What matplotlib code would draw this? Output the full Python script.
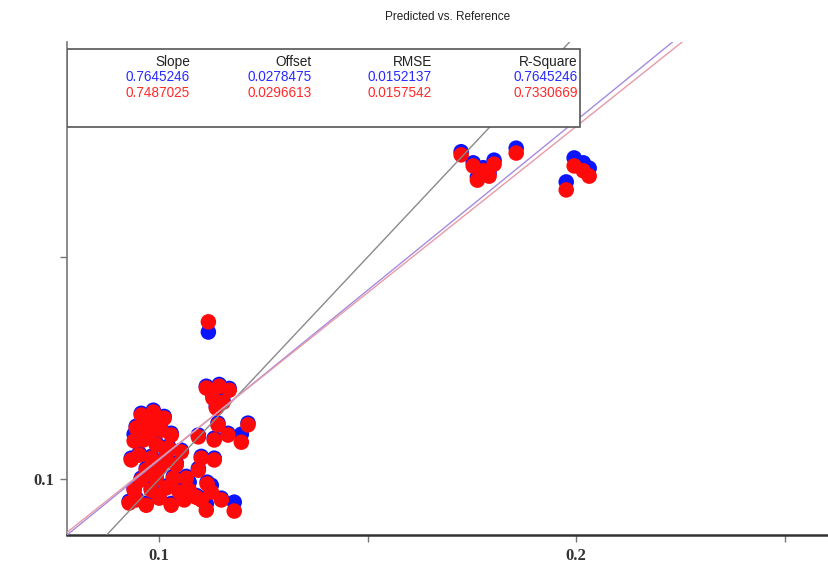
import matplotlib
matplotlib.use("Agg")
import matplotlib.pyplot as plt
from matplotlib.patches import Rectangle

# reference values (x) and predictions of the two models (blue / red)
reference = [
    0.1724, 0.1753, 0.1777, 0.1803, 0.1763, 0.1791, 0.1856,
    0.1995, 0.2017, 0.2031, 0.1976,
    0.1118,
    0.1113, 0.1144, 0.1168, 0.1129, 0.1153, 0.1137,
    0.1213, 0.1197, 0.1141, 0.1094, 0.1132, 0.1165, 0.1101, 0.1132, 0.1094, 0.1115,
    0.0957, 0.0986, 0.1012, 0.0945, 0.0976, 0.1005, 0.1029, 0.0940, 0.0962,
    0.0993, 0.1022, 0.1053, 0.0952, 0.0981, 0.1010, 0.1041, 0.0969, 0.1000,
    0.0928, 0.0945, 0.0969, 0.1000, 0.1029, 0.1060, 0.1089, 0.0981, 0.1017,
    0.1048, 0.0957, 0.0993, 0.1072, 0.1125, 0.1113, 0.1180, 0.1149,
    0.0933, 0.1017, 0.0976, 0.1005, 0.1034, 0.1065, 0.1101, 0.0940,
]
pred_red = [
    0.1730, 0.1705, 0.1694, 0.1709, 0.1673, 0.1682, 0.1734,
    0.1705, 0.1694, 0.1682, 0.1651,
    0.1354,
    0.1205, 0.1209, 0.1200, 0.1182, 0.1173, 0.1160,
    0.1122, 0.1083, 0.1122, 0.1095, 0.1088, 0.1099, 0.1047, 0.1043, 0.1020, 0.0989,
    0.1144, 0.1151, 0.1137, 0.1115, 0.1122, 0.1110, 0.1099, 0.1086, 0.1088,
    0.1077, 0.1070, 0.1061, 0.1054, 0.1047, 0.1038, 0.1032, 0.1020, 0.1025,
    0.0946, 0.0953, 0.0941, 0.0957, 0.0941, 0.0953, 0.0959, 0.0975, 0.0980,
    0.0971, 0.0998, 0.1002, 0.0975, 0.0971, 0.0930, 0.0928, 0.0953,
    0.1043, 0.1054, 0.1099, 0.1133, 0.1002, 0.1002, 0.0953, 0.0975,
]
pred_blue = [
    0.1737, 0.1712, 0.1701, 0.1718, 0.1680, 0.1689, 0.1745,
    0.1723, 0.1712, 0.1700, 0.1669,
    0.1331,
    0.1209, 0.1213, 0.1204, 0.1186, 0.1177, 0.1164,
    0.1126, 0.1101, 0.1126, 0.1099, 0.1092, 0.1103, 0.1051, 0.1047, 0.1024, 0.0993,
    0.1148, 0.1155, 0.1141, 0.1119, 0.1126, 0.1114, 0.1103, 0.1101, 0.1092,
    0.1081, 0.1074, 0.1065, 0.1058, 0.1051, 0.1042, 0.1036, 0.1024, 0.1029,
    0.0950, 0.0957, 0.0945, 0.0961, 0.0945, 0.0957, 0.0963, 0.0979, 0.0984,
    0.0975, 0.1002, 0.1006, 0.0993, 0.0986, 0.0944, 0.0948, 0.0957,
    0.1047, 0.1058, 0.1103, 0.1137, 0.1006, 0.1006, 0.0957, 0.0979,
]

headers = ["Slope", "Offset", "RMSE", "R-Square"]
stats_blue = ["0.7645246", "0.0278475", "0.0152137", "0.7645246"]
stats_red = ["0.7487025", "0.0296613", "0.0157542", "0.7330669"]
slope_blue, offset_blue = 0.7645246, 0.0278475
slope_red, offset_red = 0.7487025, 0.0296613

XLIM = (0.0779, 0.2606)
YLIM = (0.0874, 0.1984)

fig = plt.figure(figsize=(8.29, 5.67), dpi=100)
ax = fig.add_axes([0.0808, 0.0564, 0.9192, 0.8695])

ax.scatter(reference, pred_blue, s=125, c="#0a14ff", edgecolors="none", zorder=2)
ax.scatter(reference, pred_red, s=125, c="#ff0a0a", edgecolors="none", zorder=3)

xs = list(XLIM)
ax.plot(xs, xs, color="#8a8a8a", lw=1.0, zorder=4)
ax.plot(xs, [slope_blue * v + offset_blue for v in xs], color="#a58be0", lw=1.0, zorder=4)
ax.plot(xs, [slope_red * v + offset_red for v in xs], color="#e79aa8", lw=1.0, zorder=4)

ax.set_xlim(*XLIM)
ax.set_ylim(*YLIM)

ax.set_xticks([0.1, 0.15, 0.2, 0.25])
ax.set_xticklabels(["0.1", "", "0.2", ""])
ax.set_yticks([0.1, 0.15])
ax.set_yticklabels(["0.1", ""])
for lab in ax.get_xticklabels() + ax.get_yticklabels():
    lab.set_fontfamily("Liberation Serif")
    lab.set_fontweight("bold")
    lab.set_fontsize(12)
    lab.set_color("#333333")
ax.tick_params(direction="out", length=5, width=1, color="#777777", pad=4)

for side in ("top", "right"):
    ax.spines[side].set_visible(False)
ax.spines["left"].set_color("#777777")
ax.spines["left"].set_linewidth(1.2)
ax.spines["bottom"].set_color("#333333")
ax.spines["bottom"].set_linewidth(1.8)

ax.set_title("Predicted vs. Reference", fontsize=8.5, family="Liberation Sans",
             color="#222222", pad=16)

# statistics box
box = Rectangle((0.0, 0.8276), 0.673, 0.1582, transform=ax.transAxes,
                facecolor="white", edgecolor="#555555", lw=1.2, zorder=5)
ax.add_patch(box)
col_x = [0.1614, 0.3215, 0.479, 0.6706]
rows = [(headers, "#222222", 0.9594), (stats_blue, "#2a2aff", 0.929),
        (stats_red, "#ff2a2a", 0.8966)]
for texts, color, yy in rows:
    for cx, t in zip(col_x, texts):
        ax.text(cx, yy, t, transform=ax.transAxes, ha="right", va="center",
                fontsize=9.8, family="Liberation Sans", color=color, zorder=6)

fig.savefig("out.png", dpi=100)
